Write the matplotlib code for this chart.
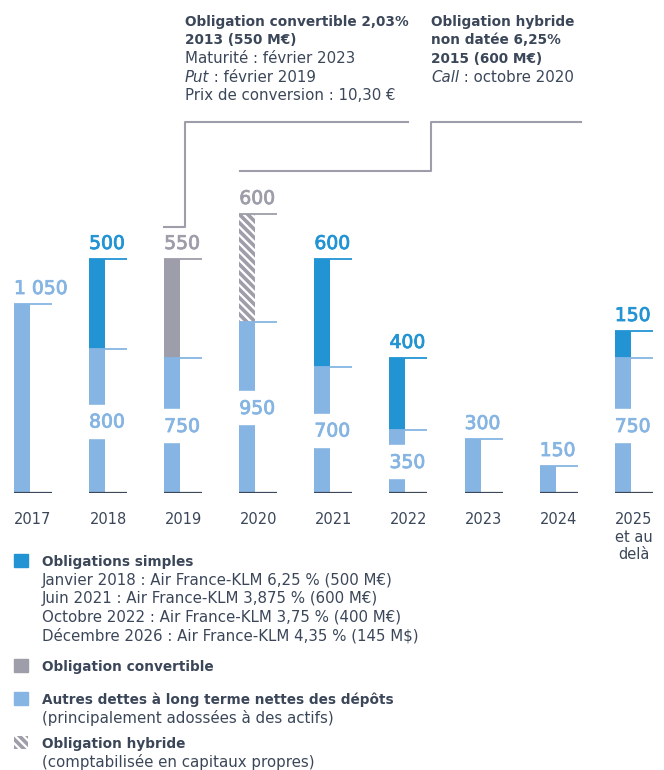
import numpy as np
import matplotlib.pyplot as plt
import matplotlib.patheffects as pe
from matplotlib.patches import Rectangle
from matplotlib.lines import Line2D

# Échéancier de la dette (M€)
years = ["2017", "2018", "2019", "2020", "2021", "2022", "2023", "2024", "2025\net au\ndelà"]
autres = [1050, 800, 750, 950, 700, 350, 300, 150, 750]
simples = [0, 500, 0, 0, 600, 400, 0, 0, 150]
convertible = [0, 0, 550, 0, 0, 0, 0, 0, 0]
hybride = [0, 0, 0, 600, 0, 0, 0, 0, 0]

LIGHT = "#86b5e3"
BLUE = "#2294d3"
GRAY = "#9d9ea9"
DARK = "#3b4759"
HATCH = "\\" * 4

plt.rcParams["hatch.linewidth"] = 2.6

W, H = 664, 770
fig = plt.figure(figsize=(W / 100, H / 100), dpi=100)


def fx(px):
    return px / W


def fy(py):
    return 1 - py / H


# mise en page en pixels
base_px = 493
scale = 0.18     # px par M€
step = 75.1      # px entre deux années
ax = fig.add_axes([0, fy(base_px), 1, 288 / H])
ax.set_xlim(-33 / step, (W - 33) / step)
ax.set_ylim(0, 288 / scale)
for s in ax.spines.values():
    s.set_visible(False)
ax.set_yticks([])

x = np.arange(len(years))
bw = 16 / step
off = 19 / step
tick_len = 38 / step
gap_h = 33 / scale
px = 1 / scale
fmt = lambda v: f"{v:,}".replace(",", " ")


def value_label(xv, yv, v, col):
    ax.text(xv, yv, fmt(v), color=col, fontsize=13.5, ha="left", va="baseline", zorder=4,
            path_effects=[pe.withStroke(linewidth=0.6, foreground=col)])


for i in x:
    left = x[i] - off
    low = autres[i]
    ax.bar(left, low, width=bw, align="edge", color=LIGHT, zorder=2)
    top, col, hatch = 0, None, None
    if simples[i]:
        top, col = simples[i], BLUE
    elif convertible[i]:
        top, col = convertible[i], GRAY
    elif hybride[i]:
        top, col, hatch = hybride[i], GRAY, HATCH
    if top:
        if hatch:
            ax.bar(left, top, bottom=low, width=bw, align="edge", color="white",
                   edgecolor=col, hatch=hatch, linewidth=0, zorder=2)
        else:
            ax.bar(left, top, bottom=low, width=bw, align="edge", color=col, zorder=2)
        ax.hlines(low + top, left, left + tick_len, color=col, lw=1.3, zorder=3)
        value_label(left, low + top + 10 * px, top, col)
        # coupure dans la barre avec la valeur des autres dettes
        g0 = low / 2 - gap_h / 2
        ax.add_patch(Rectangle((left - 0.01, g0), bw + 0.02, gap_h, color="white", zorder=2.5))
        value_label(left, g0 + 10 * px, low, LIGHT)
    else:
        value_label(left, low + 10 * px, low, LIGHT)
    ax.hlines(low, left, left + tick_len, color=LIGHT, lw=1.3, zorder=3)
    ax.hlines(0, left, left + tick_len, color=DARK, lw=1.6, zorder=3)

ax.set_xticks(x, years)
ax.tick_params(axis="x", length=0, pad=14, labelsize=10.5, labelcolor=DARK)

# annotations en haut
renderer = fig.canvas.get_renderer()

bold = {"fontweight": "bold", "fontsize": 9.8}
reg = {"fontsize": 10.8}
ita = {"style": "italic", "fontsize": 10.8}


def line_text(xp, yp, parts):
    cur = xp
    for txt, style in parts:
        t = fig.text(fx(cur), fy(yp), txt, color=DARK, va="baseline", ha="left", **style)
        cur = t.get_window_extent(renderer).x1


conv_lines = [
    [("Obligation convertible 2,03%", bold)],
    [("2013 (550 M€)", bold)],
    [("Maturité : février 2023", reg)],
    [("Put", ita), (" : février 2019", reg)],
    [("Prix de conversion : 10,30 €", reg)],
]
hyb_lines = [
    [("Obligation hybride", bold)],
    [("non datée 6,25%", bold)],
    [("2015 (600 M€)", bold)],
    [("Call", ita), (" : octobre 2020", reg)],
]
for k, parts in enumerate(conv_lines):
    line_text(185, 26 + k * 18.5, parts)
for k, parts in enumerate(hyb_lines):
    line_text(431, 26 + k * 18.5, parts)

conn = [
    ([408, 185, 185, 164], [122, 122, 227, 227]),
    ([581, 431, 431, 240], [122, 122, 171, 171]),
]
for xs, ys in conn:
    fig.add_artist(Line2D([fx(v) for v in xs], [fy(v) for v in ys], color=GRAY, lw=1.5))

# légende
legend = [
    (BLUE, None, [("Obligations simples", bold),
                  ("Janvier 2018 : Air France-KLM 6,25 % (500 M€)", reg),
                  ("Juin 2021 : Air France-KLM 3,875 % (600 M€)", reg),
                  ("Octobre 2022 : Air France-KLM 3,75 % (400 M€)", reg),
                  ("Décembre 2026 : Air France-KLM 4,35 % (145 M$)", reg)], 566),
    (GRAY, None, [("Obligation convertible", bold)], 671),
    (LIGHT, None, [("Autres dettes à long terme nettes des dépôts", bold),
                   ("(principalement adossées à des actifs)", reg)], 704),
    ("white", HATCH, [("Obligation hybride", bold),
                      ("(comptabilisée en capitaux propres)", reg)], 748),
]
for col, hatch, lines, y0 in legend:
    if hatch:
        fig.add_artist(Rectangle((fx(14), fy(y0 + 1)), 14 / W, 13 / H, facecolor="white",
                                 edgecolor=GRAY, hatch=hatch, linewidth=0,
                                 transform=fig.transFigure))
    else:
        fig.add_artist(Rectangle((fx(14), fy(y0 + 1)), 14 / W, 13 / H, color=col,
                                 transform=fig.transFigure))
    for k, (txt, style) in enumerate(lines):
        fig.text(fx(42), fy(y0 + k * 18.6), txt, color=DARK, va="baseline", ha="left", **style)

fig.savefig("out.png", dpi=100)
